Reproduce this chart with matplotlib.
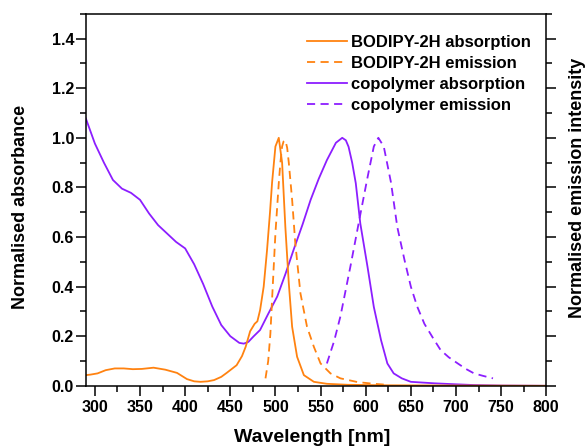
"""
Absorption / emission spectra of BODIPY-2H and the copolymer (normalised).
"""

import matplotlib
matplotlib.use("Agg")
import matplotlib.pyplot as plt
from matplotlib.ticker import MultipleLocator

plt.rcParams["font.family"] = ["Liberation Sans", "DejaVu Sans"]
plt.rcParams["font.weight"] = "bold"

ORANGE = "#ff8210"
PURPLE = "#8c1eff"

# BODIPY-2H absorption
bodipy_abs_wl = [290, 295, 303, 312, 322, 332, 342, 352, 365, 378, 391, 402, 410, 417,
                 425, 432, 440, 446, 457, 463, 467, 472, 477, 480, 483, 487, 490.7, 494,
                 496.3, 500, 503.7, 507.4, 511, 514.8, 518.5, 524, 531.5, 542.6, 557,
                 580, 620, 700, 800]
bodipy_abs = [0.043, 0.045, 0.05, 0.063, 0.07, 0.07, 0.067, 0.068, 0.073, 0.065, 0.052,
              0.027, 0.018, 0.016, 0.018, 0.023, 0.036, 0.052, 0.083, 0.12, 0.157, 0.22,
              0.25, 0.26, 0.305, 0.40, 0.547, 0.70, 0.82, 0.965, 1.0, 0.9, 0.64, 0.414,
              0.238, 0.117, 0.043, 0.016, 0.008, 0.004, 0.002, 0.001, 0.0]

# BODIPY-2H emission
bodipy_em_wl = [489, 492, 494.4, 497, 500, 503.7, 505.5, 507.4, 509, 511, 513, 514.8,
                518.5, 522, 527.7, 535, 542.6, 550, 561, 572, 591, 609, 620]
bodipy_em = [0.03, 0.10, 0.21, 0.40, 0.615, 0.817, 0.90, 0.965, 0.985, 0.99, 0.96, 0.9,
             0.75, 0.575, 0.373, 0.238, 0.157, 0.09, 0.05, 0.03, 0.015, 0.008, 0.005]

# copolymer absorption
copo_abs_wl = [290, 300, 310, 320, 330, 340, 350, 360, 370, 380, 390, 400, 410, 420, 430,
               440, 450, 460, 465, 470, 476, 483, 492, 502, 511, 520, 530, 539, 548, 557,
               567, 574, 578, 581, 585, 589, 594, 602, 609, 617, 624, 631, 640, 650, 676,
               700, 720, 750, 800]
copo_abs = [1.078, 0.977, 0.9, 0.83, 0.795, 0.778, 0.75, 0.695, 0.648, 0.614, 0.58, 0.554,
            0.49, 0.41, 0.32, 0.245, 0.2, 0.173, 0.17, 0.177, 0.2, 0.225, 0.29, 0.36, 0.45,
            0.547, 0.65, 0.75, 0.835, 0.91, 0.98, 1.0, 0.99, 0.964, 0.9, 0.817, 0.655, 0.48,
            0.318, 0.184, 0.09, 0.05, 0.03, 0.016, 0.01, 0.006, 0.003, 0.001, 0.0]

# copolymer emission
copo_em_wl = [557, 565, 572, 583, 594, 602, 609, 614, 620, 628, 635, 643, 650, 657, 665,
              675, 683, 692, 702, 711, 720, 730, 741]
copo_em = [0.09, 0.18, 0.28, 0.48, 0.69, 0.84, 0.965, 1.0, 0.965, 0.82, 0.64, 0.507, 0.40,
           0.32, 0.25, 0.19, 0.144, 0.115, 0.09, 0.068, 0.05, 0.04, 0.03]

x_ticks = [300, 350, 400, 450, 500, 550, 600, 650, 700, 750, 800]
y_ticks = [0.0, 0.2, 0.4, 0.6, 0.8, 1.0, 1.2, 1.4]


def main():
    W, H = 588, 446
    fig = plt.figure(figsize=(W / 100, H / 100), dpi=100)
    ax = fig.add_axes([0.146, 0.135, 0.783, 0.834])

    lw = 1.3
    dash = (4.5, 3)
    ax.plot(copo_abs_wl, copo_abs, color=PURPLE, lw=lw, label="copolymer absorption")
    ax.plot(copo_em_wl, copo_em, color=PURPLE, lw=lw, ls=(0, dash), label="copolymer emission")
    ax.plot(bodipy_abs_wl, bodipy_abs, color=ORANGE, lw=lw, label="BODIPY-2H absorption")
    ax.plot(bodipy_em_wl, bodipy_em, color=ORANGE, lw=lw, ls=(0, dash), label="BODIPY-2H emission")

    ax.set_xlim(290, 800)
    ax.set_ylim(0, 1.5)
    ax.set_xticks(x_ticks)
    ax.xaxis.set_minor_locator(MultipleLocator(25))
    ax.set_yticks(y_ticks)
    ax.set_yticklabels([f"{v:.1f}" for v in y_ticks])
    ax.yaxis.set_minor_locator(MultipleLocator(0.1))

    for sp in ax.spines.values():
        sp.set_linewidth(1.1)
    ax.tick_params(which="both", direction="out", width=1.1, labelsize=11.5,
                   top=False, right=True, labelright=False)
    ax.tick_params(which="major", length=7)
    ax.tick_params(which="minor", length=4)
    ax.tick_params(axis="x", pad=3)
    ax.tick_params(axis="y", pad=1.5)

    # axis titles placed by pixel position
    fig.text(312.5 / W, 1 - 437.5 / H, "Wavelength [nm]", ha="center", va="center",
             fontsize=14, fontweight="bold")
    fig.text(21 / W, 1 - 206.5 / H, "Normalised absorbance", rotation=90,
             ha="center", va="center", fontsize=13, fontweight="bold")
    fig.text(577 / W, 1 - 187.5 / H, "Normalised emission intensity", rotation=90,
             ha="center", va="center", fontsize=13, fontweight="bold")

    handles, labels = ax.get_legend_handles_labels()
    order = [2, 3, 0, 1]
    ax.legend([handles[i] for i in order], [labels[i] for i in order],
              loc="upper left", bbox_to_anchor=(0.48, 0.944), frameon=False,
              fontsize=12, handlelength=2.4, handletextpad=0.25, labelspacing=0.36,
              borderpad=0, borderaxespad=0)

    fig.savefig("out.png", dpi=100)
    plt.close(fig)


if __name__ == "__main__":
    main()
